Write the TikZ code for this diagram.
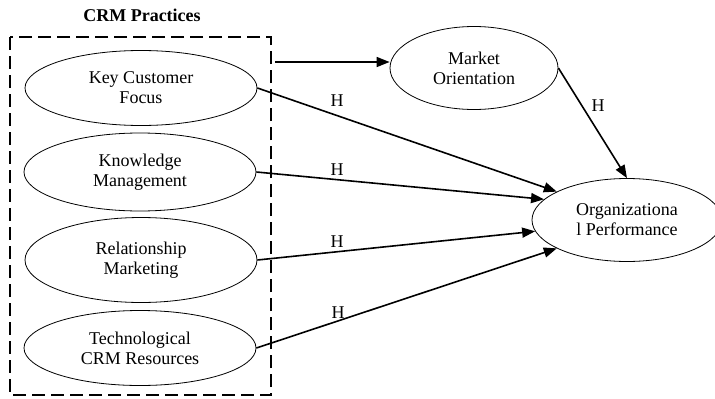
\documentclass[tikz,border=0pt]{standalone}
\usepackage{fontspec}
\setmainfont{Liberation Serif}
\usetikzlibrary{shapes.geometric,arrows.meta}
\newcommand{\diagfont}{\fontsize{18}{20}\selectfont}

\begin{document}
\begin{tikzpicture}[x=1pt, y=-1pt,
	construct/.style={ellipse, draw, line width=0.8pt, inner sep=0pt, align=center, font=\diagfont},
	hyp/.style={-{Triangle[length=13pt,width=10pt]}, line width=1.6pt},
	hlabel/.style={font=\diagfont}]

	\useasboundingbox (0,0) rectangle (715,399);

	% CRM block
	\node[font=\bfseries\diagfont] (title) at (142,15) {CRM Practices};
	\draw[dash pattern=on 13pt off 6pt, line width=1.6pt] (10,37) rectangle (271,395);

	% Constructs
	\node[construct, minimum width=232pt, minimum height=75pt] (kcf) at (141,88) {Key Customer\\Focus};
	\node[construct, minimum width=232pt, minimum height=78pt] (km) at (140,172) {Knowledge\\Management};
	\node[construct, minimum width=232pt, minimum height=85pt] (rm) at (141,260) {Relationship\\Marketing};
	\node[construct, minimum width=232pt, minimum height=75pt] (tcr) at (140,348) {Technological\\CRM Resources};
	\node[construct, minimum width=168pt, minimum height=83pt] (mo) at (474,68) {Market\\Orientation};
	\node[construct, minimum width=190pt, minimum height=83pt] (perf) at (627,220) {Organizationa\\l Performance};

	% Paths
	\coordinate (crmout) at (275,62);
	\draw[hyp] (crmout) -- (crmout -| mo.west);
	\draw[hyp] (kcf.east) -- (perf.158);
	\draw[hyp] (km.east) -- (perf.166);
	\draw[hyp] (rm.east) -- (perf.187);
	\draw[hyp] (tcr.east) -- (perf.202);
	\draw[hyp] (mo.east) -- (perf.north);

	\node[hlabel] (h1) at (337,101) {H};
	\node[hlabel] (h2) at (337,170) {H};
	\node[hlabel] (h3) at (337,242) {H};
	\node[hlabel] (h4) at (338,313) {H};
	\node[hlabel] (h5) at (598,106) {H};

\end{tikzpicture}
\end{document}
